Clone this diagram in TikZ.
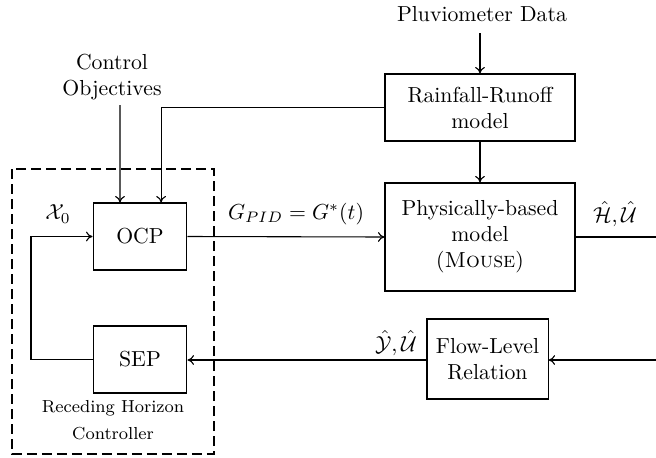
\documentclass[tikz,border=0pt]{standalone}
\usetikzlibrary{arrows.meta}
\begin{document}
\begin{tikzpicture}[x=0.46pt,y=-0.46pt,
  blk/.style={draw,line width=0.5pt,align=center,inner sep=1pt},
  conn/.style={line width=0.5pt},
  arr/.style={line width=0.5pt,-{To[length=3pt,width=4.5pt]}},
  lbl/.style={inner sep=0pt,align=center}]
\useasboundingbox (0,0) rectangle (656,457);
% dashed controller box
\draw[line width=0.5pt,dash pattern=on 4.5pt off 2.4pt] (12,169) rectangle (214,454);
\node[lbl,font=\footnotesize] (rh1) at (113,408) {Receding Horizon};
\node[lbl,font=\footnotesize] (rh2) at (113,434) {Controller};
% blocks
\node[blk,minimum width=43.2pt,minimum height=30.8pt] (ocp) at (140,236.5) {OCP};
\node[blk,minimum width=43.2pt,minimum height=30.8pt] (sep) at (140,359.5) {SEP};
\node[blk,minimum width=87.4pt,minimum height=30.8pt] (rain) at (480,107.5) {Rainfall-Runoff\\model};
\node[blk,minimum width=87.4pt,minimum height=49.7pt] (phys) at (480,237) {Physically-based\\model\\(\textsc{Mouse})};
\node[blk,minimum width=55.7pt,minimum height=36.8pt] (flow) at (487.5,359) {Flow-Level\\Relation};
% texts
\node[lbl] (pluv) at (482,14) {Pluviometer Data};
\node[lbl] (ctrl) at (112,77) {Control\\Objectives};
\node[lbl] (x0) at (58,214) {$\mathcal{X}_0$};
\node[lbl] (g) at (296,214) {$G_{PID}=G^{*}(t)$};
\node[lbl] (hu) at (615,214) {$\hat{\mathcal{H}},\hat{\mathcal{U}}$};
\node[lbl] (yu) at (396,343) {$\hat{\mathcal{Y}},\hat{\mathcal{U}}$};
% coordinates
\coordinate (pstart) at (480,33);
\coordinate (cstart) at (120,105);
\coordinate (ocpA) at ([xshift=-9.2pt]ocp.north);
\coordinate (ocpB) at ([xshift=9.7pt]ocp.north);
\coordinate (hend) at (656,237);
\coordinate (fstart) at (656,360);
\coordinate (fb) at (31,359.5);
% connectors
\draw[arr] (pstart) -- (rain.north);
\draw[arr] (rain.south) -- (phys.north);
\draw[arr] (rain.west) -| (ocpB);
\draw[arr] (cstart) -- (ocpA);
\draw[arr] (ocp.east) -- (phys.west);
\draw[conn] (phys.east) -- (hend);
\draw[arr] (fstart) -- (flow.east |- fstart);
\draw[arr] (flow.west |- fstart) -- (sep.east |- fstart);
\draw[arr] (sep.west) -- (fb) |- (ocp.west);
\end{tikzpicture}
\end{document}
